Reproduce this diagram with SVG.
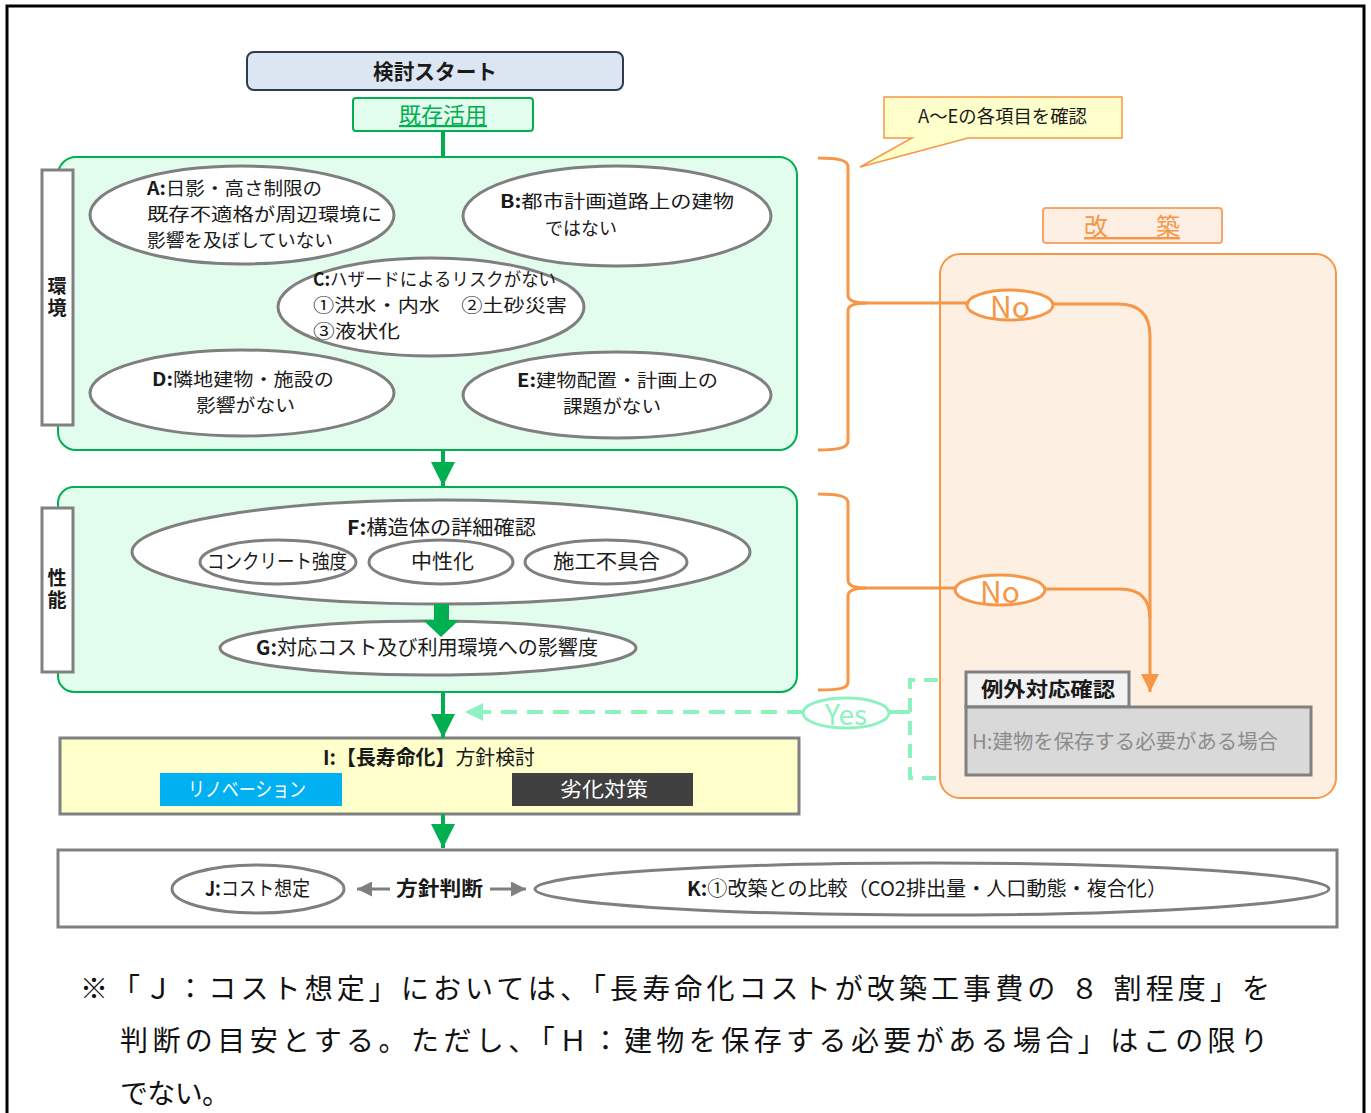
<svg xmlns="http://www.w3.org/2000/svg" width="1371" height="1113" viewBox="0 0 1371 1113">
<style>
text{font-family:"Noto Sans CJK JP","Noto Sans",sans-serif;fill:#1a1a1a}
.t20{font-size:20px}
.t18{font-size:18px}
.b{font-weight:bold}
.ell{fill:#fff;stroke:#7f7f7f;stroke-width:3}
.panel{fill:#e2fcee;stroke:#00b050;stroke-width:2}
.lbl{fill:#fff;stroke:#808080;stroke-width:3}
.or{stroke:#f79646;stroke-width:3;fill:none}
.gr{stroke:#00b050;stroke-width:4;fill:none}
.vt{writing-mode:vertical-rl;font-size:19px;font-weight:bold;letter-spacing:3px}
.note{font-family:"Liberation Serif","Noto Sans CJK JP",serif;font-size:28px;fill:#111}
</style>
<defs>
<marker id="ag" viewBox="0 0 10 10" refX="10" refY="5" markerWidth="6" markerHeight="6" orient="auto" markerUnits="strokeWidth"><path d="M0,0 L10,5 L0,10 z" fill="#00b050"/></marker>
<marker id="ao" viewBox="0 0 10 10" refX="10" refY="5" markerWidth="6" markerHeight="6" orient="auto" markerUnits="strokeWidth"><path d="M0,0 L10,5 L0,10 z" fill="#f79646"/></marker>
<marker id="am" viewBox="0 0 10 10" refX="10" refY="5" markerWidth="4.5" markerHeight="5" orient="auto" markerUnits="strokeWidth"><path d="M0,0 L10,5 L0,10 z" fill="#8ef2c0"/></marker>
<marker id="ay" viewBox="0 0 10 10" refX="10" refY="5" markerWidth="5" markerHeight="5" orient="auto" markerUnits="strokeWidth"><path d="M0,0 L10,5 L0,10 z" fill="#7f7f7f"/></marker>
</defs>

<rect x="7" y="6" width="1357" height="1120" fill="#fff" stroke="#000" stroke-width="3"/>

<g id="panel-env">
<rect class="panel" x="58" y="157" width="739" height="293" rx="18"/>
</g>
<g id="panel-perf">
<rect class="panel" x="58" y="487" width="739" height="205" rx="16"/>
</g>
<g id="panel-rebuild">
<rect x="940" y="254" width="396" height="544" rx="20" fill="#fdf0e3" stroke="#f79646" stroke-width="2"/>
</g>

<g id="start">
<rect x="247" y="52" width="376" height="38" rx="7" fill="#dce6f2" stroke="#2e3b4e" stroke-width="2"/>
<text x="435" y="79" text-anchor="middle" font-size="21" class="b" textLength="124" lengthAdjust="spacingAndGlyphs">検討スタート</text>
</g>
<g id="kizon">
<rect x="353" y="98" width="180" height="33" rx="3" fill="#e2fcee" stroke="#00b050" stroke-width="2"/>
<text x="443" y="123" text-anchor="middle" font-size="22" style="fill:#00b050;text-decoration:underline">既存活用</text>
</g>

<g id="label-env">
<rect class="lbl" x="42" y="170" width="31" height="255"/>
<text class="vt" x="57" y="298" text-anchor="middle">環境</text>
</g>
<g id="nodeA">
<ellipse class="ell" cx="242" cy="215" rx="152" ry="49"/>
<text class="t18"><tspan x="147" y="195" textLength="175" lengthAdjust="spacingAndGlyphs"><tspan class="b">A:</tspan>日影・高さ制限の</tspan><tspan x="147" y="221" textLength="235" lengthAdjust="spacingAndGlyphs">既存不適格が周辺環境に</tspan><tspan x="147" y="247" textLength="186" lengthAdjust="spacingAndGlyphs">影響を及ぼしていない</tspan></text>
</g>
<g id="nodeB">
<ellipse class="ell" cx="617" cy="216" rx="154" ry="50"/>
<text class="t18"><tspan x="500" y="208" textLength="234" lengthAdjust="spacingAndGlyphs"><tspan class="b">B:</tspan>都市計画道路上の建物</tspan><tspan x="545" y="235" textLength="72" lengthAdjust="spacingAndGlyphs">ではない</tspan></text>
</g>
<g id="nodeC">
<ellipse class="ell" cx="431" cy="307" rx="153" ry="49"/>
<text class="t18"><tspan x="313" y="286" textLength="243" lengthAdjust="spacingAndGlyphs"><tspan class="b">C:</tspan>ハザードによるリスクがない</tspan><tspan x="313" y="312" textLength="254" lengthAdjust="spacingAndGlyphs">①洪水・内水　②土砂災害</tspan><tspan x="313" y="338" textLength="87" lengthAdjust="spacingAndGlyphs">③液状化</tspan></text>
</g>
<g id="nodeD">
<ellipse class="ell" cx="242" cy="393" rx="152" ry="43"/>
<text class="t18"><tspan x="152" y="386" textLength="182" lengthAdjust="spacingAndGlyphs"><tspan class="b">D:</tspan>隣地建物・施設の</tspan><tspan x="196" y="412" textLength="99" lengthAdjust="spacingAndGlyphs">影響がない</tspan></text>
</g>
<g id="nodeE">
<ellipse class="ell" cx="617" cy="395" rx="154" ry="43"/>
<text class="t18"><tspan x="517" y="387" textLength="201" lengthAdjust="spacingAndGlyphs"><tspan class="b">E:</tspan>建物配置・計画上の</tspan><tspan x="563" y="413" textLength="98" lengthAdjust="spacingAndGlyphs">課題がない</tspan></text>
</g>

<g id="label-perf">
<rect class="lbl" x="42" y="508" width="31" height="164"/>
<text class="vt" x="57" y="590" text-anchor="middle">性能</text>
</g>
<g id="nodeF">
<ellipse class="ell" cx="441" cy="552" rx="309" ry="52"/>
<text class="t20" x="347" y="535" textLength="189" lengthAdjust="spacingAndGlyphs"><tspan class="b">F:</tspan>構造体の詳細確認</text>
<ellipse class="ell" cx="278" cy="562" rx="78" ry="22"/>
<text class="t20" x="207" y="569" textLength="140" lengthAdjust="spacingAndGlyphs">コンクリート強度</text>
<ellipse class="ell" cx="441" cy="562" rx="72" ry="22"/>
<text class="t20" x="411" y="569" textLength="63" lengthAdjust="spacingAndGlyphs">中性化</text>
<ellipse class="ell" cx="606" cy="562" rx="81" ry="22"/>
<text class="t20" x="553" y="569" textLength="107" lengthAdjust="spacingAndGlyphs">施工不具合</text>
</g>
<g id="nodeG">
<ellipse class="ell" cx="428" cy="648" rx="208" ry="27"/>
<text class="t20" x="256" y="655" textLength="342" lengthAdjust="spacingAndGlyphs"><tspan class="b">G:</tspan>対応コスト及び利用環境への影響度</text>
</g>

<g id="callout">
<path d="M884,97 H1122 V138 H968 L860,167 L912,138 H884 Z" fill="#ffffcc" stroke="#f79646" stroke-width="1.5"/>
<text x="918" y="123" font-size="18" textLength="169" lengthAdjust="spacingAndGlyphs">A～Eの各項目を確認</text>
</g>
<g id="kaichiku">
<rect x="1043" y="208" width="179" height="35" rx="3" fill="#fdefe3" stroke="#f8a56a" stroke-width="2"/>
<text x="1132" y="235" text-anchor="middle" font-size="24" style="fill:#f79646;text-decoration:underline">改　　築</text>
</g>
<g id="no1">
<ellipse cx="1010" cy="305" rx="43" ry="15" fill="#fff" stroke="#f79646" stroke-width="3"/>
<text x="1010" y="318" text-anchor="middle" font-size="30" style="fill:#f79646">No</text>
</g>
<g id="no2">
<ellipse cx="1000" cy="590" rx="45" ry="15" fill="#fff" stroke="#f79646" stroke-width="3"/>
<text x="1000" y="603" text-anchor="middle" font-size="30" style="fill:#f79646">No</text>
</g>
<g id="nodeH">
<rect x="966" y="672" width="163" height="35" fill="#f2f2f2" stroke="#808080" stroke-width="3"/>
<text x="981" y="697" font-size="20" class="b" textLength="134" lengthAdjust="spacingAndGlyphs">例外対応確認</text>
<rect x="966" y="707" width="345" height="68" fill="#d9d9d9" stroke="#808080" stroke-width="3"/>
<text x="972" y="749" font-size="20" style="fill:#8c8c8c" textLength="306" lengthAdjust="spacingAndGlyphs">H:建物を保存する必要がある場合</text>
</g>
<g id="yes">
<ellipse cx="846" cy="713" rx="43" ry="15" fill="#fff" stroke="#8ef2c0" stroke-width="3"/>
<text x="846" y="725" text-anchor="middle" font-size="28" style="fill:#8ef2c0">Yes</text>
</g>

<g id="nodeI">
<rect x="60" y="738" width="739" height="76" fill="#ffffcc" stroke="#808080" stroke-width="3"/>
<text class="t20" x="323" y="765" textLength="212" lengthAdjust="spacingAndGlyphs"><tspan class="b">I:【長寿命化】</tspan>方針検討</text>
<rect x="160" y="773" width="182" height="33" fill="#00b0f0"/>
<text class="t20" x="188" y="797" style="fill:#fff" textLength="118" lengthAdjust="spacingAndGlyphs">リノベーション</text>
<rect x="512" y="773" width="181" height="33" fill="#404040"/>
<text class="t20" x="560" y="797" style="fill:#fff" textLength="88" lengthAdjust="spacingAndGlyphs">劣化対策</text>
</g>

<g id="nodeJK">
<rect x="58" y="850" width="1279" height="77" fill="#fff" stroke="#808080" stroke-width="3"/>
<ellipse class="ell" cx="258" cy="889" rx="86" ry="24"/>
<text class="t20" x="205" y="896" textLength="105" lengthAdjust="spacingAndGlyphs"><tspan class="b">J:</tspan>コスト想定</text>
<text class="t20 b" x="396" y="896" textLength="87" lengthAdjust="spacingAndGlyphs">方針判断</text>
<ellipse class="ell" cx="932" cy="889" rx="397" ry="26"/>
<text class="t20" x="687" y="896" textLength="480" lengthAdjust="spacingAndGlyphs"><tspan class="b">K:</tspan>①改築との比較（CO2排出量・人口動態・複合化）</text>
</g>

<g id="connectors">
<line class="gr" x1="443" y1="131" x2="443" y2="157"/>
<line class="gr" x1="443" y1="450" x2="443" y2="486" marker-end="url(#ag)"/>
<path d="M434,604 H449 V620 H459 L441,637 L423,620 H434 Z" fill="#00b050"/>
<line class="gr" x1="443" y1="692" x2="443" y2="738" marker-end="url(#ag)"/>
<line class="gr" x1="443" y1="814" x2="443" y2="848" marker-end="url(#ag)"/>
<path class="or" d="M818,158 C838,158 848,160 848,167 V295 Q848,303 866,303 Q848,303 848,311 V441 C848,448 838,450 818,450"/>
<path class="or" d="M818,494 C838,494 848,496 848,503 V580 Q848,588 866,588 Q848,588 848,596 V682 C848,689 838,690 818,690"/>
<path class="or" d="M862,303 H967"/>
<path class="or" d="M862,588 H955"/>
<path class="or" d="M1053,304 H1118 Q1150,304 1150,336 V692" marker-end="url(#ao)"/>
<path class="or" d="M1045,589 H1120 Q1150,589 1150,619"/>
<path d="M938,680 H910 V778 H938" fill="none" stroke="#8ef2c0" stroke-width="4" stroke-dasharray="14,9"/>
<line x1="910" y1="712" x2="889" y2="712" stroke="#8ef2c0" stroke-width="4"/>
<line x1="803" y1="712" x2="465" y2="712" stroke="#8ef2c0" stroke-width="4" stroke-dasharray="16,10" marker-end="url(#am)"/>
<line x1="390" y1="889" x2="357" y2="889" stroke="#7f7f7f" stroke-width="3" marker-end="url(#ay)"/>
<line x1="490" y1="889" x2="526" y2="889" stroke="#7f7f7f" stroke-width="3" marker-end="url(#ay)"/>
</g>

<g id="note">
<text class="note" x="80" y="999" textLength="1190" lengthAdjust="spacing">※「Ｊ：コスト想定」においては、「長寿命化コストが改築工事費の ８ 割程度」を</text>
<text class="note" x="120" y="1051" textLength="1148" lengthAdjust="spacing">判断の目安とする。ただし、「Ｈ：建物を保存する必要がある場合」はこの限り</text>
<text class="note" x="120" y="1104" textLength="110" lengthAdjust="spacing">でない。</text>
</g>
</svg>
